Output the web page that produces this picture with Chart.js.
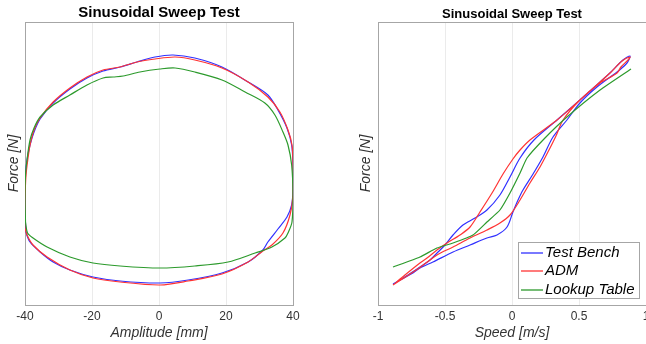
<!DOCTYPE html>
<html>
<head>
<meta charset="utf-8">
<script src="https://cdn.jsdelivr.net/npm/chart.js@4.4.1/dist/chart.umd.min.js"></script>
<style>
  html, body { margin: 0; padding: 0; background: #fff; overflow: hidden; }
  #wrap { position: relative; width: 646px; height: 344px; overflow: hidden; }
  #left { position: absolute; left: 0; top: 0; }
  #right { position: absolute; left: 323px; top: 0; }
</style>
</head>
<body>
<div id="wrap">
  <canvas id="left" width="323" height="344"></canvas>
  <canvas id="right" width="333" height="344"></canvas>
</div>
<script>
// series names and tick values
const seriesNames = ['Test Bench', 'ADM', 'Lookup Table'];
const ampTicks = [-40, -20, 0, 20, 40];
const speedTicks = [-1, -0.5, 0, 0.5, 1];

// force vs amplitude loops (mm, N)
const ampBench = [-39.85,-40,-39.85,-39.4,-38.5,-37.3,-35.5,-31.6,-26.6,-21.5,-16.7,-11.6,-6.6,-1.2,4.2,10.7,18.8,26.6,32.5,35.5,38.2,39.6,40,40,39.6,38.2,35.5,32.5,31.0,26.6,18.8,8.7,0.3,-11.6,-19.7,-26.6,-31.6,-35.5,-38.5,-39.7,-39.85];
const forceAmpBench = [-615,-365,-115,35,185,315,445,605,745,855,925,965,1015,1065,1085,1055,965,815,685,535,355,185,-15,-265,-415,-535,-655,-785,-865,-985,-1095,-1165,-1195,-1175,-1135,-1065,-985,-885,-785,-685,-615];

const ampADM = [-40,-40,-39.7,-39.1,-38.5,-37.3,-35.5,-31.6,-26.6,-21.5,-16.7,-11.6,-6.6,-1.2,4.8,10.7,18.8,26.6,32.5,36.1,38.5,39.7,40,40,39.1,37.0,33.7,31.0,26.6,18.8,8.7,0.3,-11.6,-19.7,-26.6,-33.4,-37.6,-39.4,-40];
const forceAmpADM = [-645,-365,-115,55,185,335,455,615,755,865,935,965,1015,1045,1065,1035,955,815,665,515,335,185,-15,-315,-515,-695,-815,-875,-985,-1105,-1175,-1215,-1185,-1145,-1065,-935,-815,-715,-645];

const ampLookup = [-39.85,-40,-39.85,-39.4,-38.5,-37.3,-35.5,-31.6,-26.6,-21.5,-16.7,-13.7,-10.7,-5.7,0.3,4.8,10.7,18.8,25.7,31.6,34.6,37.0,38.5,39.6,40,39.7,38.5,37.6,33.7,28.7,20.6,10.7,0.3,-11.6,-19.7,-26.6,-33.4,-37.6,-39.25,-39.85];
const forceAmpLookup = [-585,-365,-115,35,235,355,465,585,685,785,855,865,875,915,945,955,915,835,715,605,485,315,185,-15,-315,-585,-695,-745,-835,-895,-985,-1025,-1045,-1025,-995,-935,-835,-745,-695,-585];

// force vs speed loops (m/s, N)
const speedBench = [-0.888,-0.739,-0.687,-0.590,-0.440,-0.313,-0.187,-0.112,-0.037,0.007,0.045,0.082,0.157,0.231,0.306,0.410,0.507,0.634,0.784,0.858,0.881,0.828,0.731,0.507,0.336,0.164,0.060,-0.015,-0.090,-0.187,-0.276,-0.366,-0.440,-0.500,-0.552,-0.612,-0.687,-0.776,-0.888];
const forceSpeedBench = [-1205,-1095,-1045,-985,-885,-815,-745,-715,-635,-485,-365,-265,-105,65,265,435,605,765,915,1005,1075,1035,905,635,435,235,55,-135,-315,-465,-545,-615,-715,-815,-885,-965,-1035,-1115,-1205];

const speedADM = [-0.888,-0.687,-0.560,-0.440,-0.313,-0.187,-0.090,-0.015,0.060,0.134,0.209,0.276,0.328,0.381,0.507,0.657,0.784,0.813,0.866,0.881,0.821,0.731,0.507,0.336,0.134,0.060,0.007,-0.067,-0.149,-0.239,-0.313,-0.388,-0.485,-0.560,-0.634,-0.687,-0.799,-0.888];
const forceSpeedADM = [-1215,-1040,-915,-835,-745,-665,-595,-515,-365,-195,-35,135,275,435,635,805,905,965,1035,1065,1025,905,635,435,235,135,45,-105,-295,-485,-635,-715,-795,-865,-945,-995,-1115,-1215];

const speedLookup = [-0.888,-0.687,-0.560,-0.440,-0.291,-0.187,-0.090,-0.015,0.060,0.112,0.246,0.410,0.657,0.888];
const forceSpeedLookup = [-1035,-935,-845,-795,-715,-585,-465,-295,-95,55,255,465,735,945];

const FONT = '"Liberation Sans", Arial, Helvetica, sans-serif';
const seriesColors = ['#3030ff', '#ff3333', '#2c9a2c'];

function pts(xs, ys) {
    return xs.map((x, i) => ({ x: x, y: ys[i] }));
}

function lineSet(i, xs, ys, tension) {
    return {
        label: seriesNames[i],
        data: pts(xs, ys),
        showLine: true,
        borderColor: seriesColors[i],
        backgroundColor: seriesColors[i],
        borderWidth: 1.2,
        pointRadius: 0,
        tension: tension,
        order: 2 - i, // lookup table drawn on top
    };
}

// grey box around the plot area
const framePlugin = {
    id: 'frame',
    beforeDatasetsDraw(chart) {
        const a = chart.chartArea, c = chart.ctx;
        c.save();
        c.strokeStyle = '#a6a6a6';
        c.lineWidth = 1;
        c.strokeRect(Math.round(a.left) + 0.5, Math.round(a.top) + 0.5,
            Math.round(a.right - a.left), Math.round(a.bottom - a.top));
        c.restore();
    }
};

// boxed legend in the lower right corner
const boxLegend = {
    id: 'boxLegend',
    afterDatasetsDraw(chart) {
        const a = chart.chartArea, c = chart.ctx;
        const w = 121, h = 56;
        const x0 = Math.round(a.right) - 7 - w;
        const y0 = Math.round(a.bottom) - 7 - h;
        c.save();
        c.fillStyle = '#fff';
        c.fillRect(x0, y0, w, h);
        c.strokeStyle = '#a6a6a6';
        c.lineWidth = 1;
        c.strokeRect(x0 + 0.5, y0 + 0.5, w, h);
        c.font = 'italic 15px ' + FONT;
        c.textBaseline = 'middle';
        seriesNames.forEach((name, i) => {
            const y = Math.round(y0 + 11 + i * 18.3);
            c.strokeStyle = seriesColors[i];
            c.lineWidth = 1.3;
            c.beginPath();
            c.moveTo(x0 + 3, y);
            c.lineTo(x0 + 25, y);
            c.stroke();
            c.fillStyle = '#000';
            c.fillText(name, x0 + 27, y);
        });
        c.restore();
    }
};

function makeOptions(o) {
    return {
        responsive: false,
        animation: false,
        events: [],
        layout: { padding: { left: o.padLeft, right: o.padRight, top: 0, bottom: 0 } },
        plugins: {
            legend: { display: false },
            tooltip: { enabled: false },
            title: {
                display: true,
                text: 'Sinusoidal Sweep Test',
                color: '#000',
                fullSize: false,
                font: { family: FONT, size: o.titleSize, weight: 'bold' },
                padding: { top: o.titleTop, bottom: 22 - o.titleTop - o.titleSize * 1.2 }
            }
        },
        scales: {
            x: {
                type: 'linear',
                min: o.ticks[0],
                max: o.ticks[o.ticks.length - 1],
                afterBuildTicks: s => { s.ticks = o.ticks.map(v => ({ value: v })); },
                ticks: {
                    color: '#333', font: { family: FONT, size: 12 }, padding: 4, maxRotation: 0,
                    callback: v => String(v)
                },
                grid: { color: '#ebebeb', drawTicks: false },
                border: { display: false },
                title: {
                    display: true, text: o.xTitle, color: '#333',
                    font: { family: FONT, size: 14, style: 'italic' },
                    padding: { top: 0, bottom: 2 }
                },
                afterFit: s => { s.height = 39; }
            },
            y: {
                type: 'linear',
                min: -1415,
                max: 1415,
                ticks: { display: false },
                grid: { display: false },
                border: { display: false },
                title: {
                    display: true, text: 'Force [N]', color: '#333',
                    font: { family: FONT, size: 14, style: 'italic' },
                    padding: { top: o.yTitlePad, bottom: 0 }
                },
                afterFit: s => { s.width = 25; }
            }
        }
    };
}

new Chart(document.getElementById('left'), {
    type: 'scatter',
    data: {
        datasets: [
            lineSet(0, ampBench, forceAmpBench, 0.3),
            lineSet(1, ampADM, forceAmpADM, 0.3),
            lineSet(2, ampLookup, forceAmpLookup, 0.3)
        ]
    },
    options: makeOptions({
        padLeft: 0, padRight: 30, titleSize: 15, titleTop: 3.5,
        ticks: ampTicks, xTitle: 'Amplitude [mm]', yTitlePad: 5.6
    }),
    plugins: [framePlugin]
});

new Chart(document.getElementById('right'), {
    type: 'scatter',
    data: {
        datasets: [
            lineSet(0, speedBench, forceSpeedBench, 0.3),
            lineSet(1, speedADM, forceSpeedADM, 0.3),
            lineSet(2, speedLookup, forceSpeedLookup, 0.15)
        ]
    },
    options: makeOptions({
        padLeft: 30, padRight: 10, titleSize: 13, titleTop: 6.4,
        ticks: speedTicks, xTitle: 'Speed [m/s]', yTitlePad: 4.6
    }),
    plugins: [framePlugin, boxLegend]
});
</script>
</body>
</html>
